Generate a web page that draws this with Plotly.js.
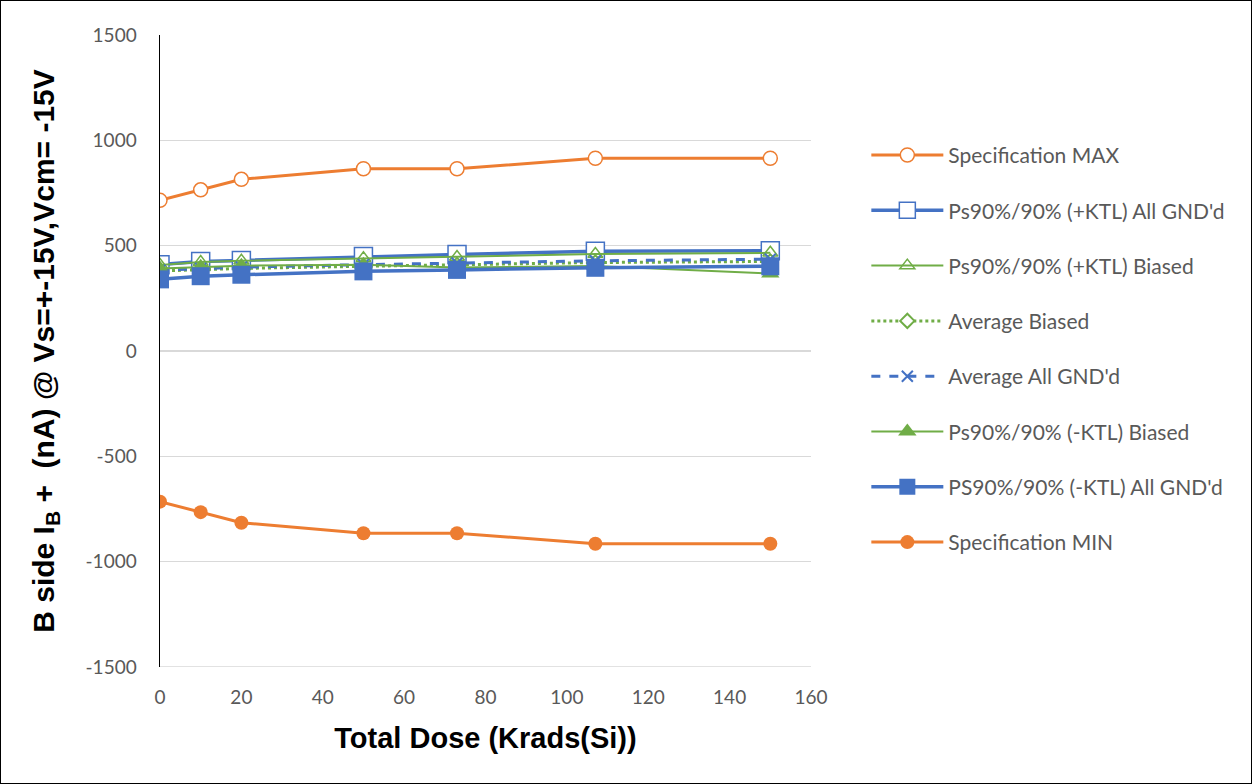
<!DOCTYPE html>
<html>
<head>
<meta charset="utf-8">
<script src="https://cdn.plot.ly/plotly-3.0.1.min.js"></script>
<style>
html,body{margin:0;padding:0;background:#fff;}
#chart{width:1250px;height:782px;border:1px solid #000;}
</style>
</head>
<body>
<div id="chart"></div>
<script>
const dose = [0, 10, 20, 50, 73, 107, 150];
const specMax = [715, 765, 815, 865, 865, 915, 915];
const plusKtlGnd = [410, 425, 430, 448, 458, 474, 476];
const plusKtlBiased = [408, 422, 428, 440, 446, 460, 466];
const avgBiased = [380, 387, 392, 402, 408, 420, 425];
const avgGnd = [383, 392, 398, 410, 418, 428, 436];
const minusKtlBiased = [392, 400, 405, 410, 396, 404, 368];
const minusKtlGnd = [340, 355, 362, 378, 385, 395, 402];
const specMin = [-715, -765, -815, -865, -865, -915, -915];
const yTickVals = [-1500, -1000, -500, 0, 500, 1000, 1500];
const yTickText = ['-1500', '-1000', '-500', '0', '500', '1000', '1500'];

const orange = '#ED7D31', blue = '#4472C4', green = '#70AD47';

function tr(name, y, color, lw, dash, sym, msize, fill, mline, group) {
  return {
    x: dose, y: y, name: name, type: 'scatter', mode: 'lines+markers',
    legendgroup: group,
    line: {color: color, width: lw, dash: dash},
    marker: {symbol: sym, size: msize, color: fill, line: {color: color, width: mline}}
  };
}

const data = [
  tr('Specification MAX', specMax, orange, 3, 'solid', 'circle', 14, '#fff', 1.5, 'g1'),
  tr("Ps90%/90% (+KTL) All GND'd", plusKtlGnd, blue, 3.5, 'solid', 'square', 18, '#fff', 1.5, 'g2'),
  tr('Ps90%/90% (+KTL) Biased', plusKtlBiased, green, 2, 'solid', 'triangle-up-open', 13, green, 1.5, 'g3'),
  tr('Average Biased', avgBiased, green, 3, 'dot', 'diamond', 11, '#fff', 2, 'g4'),
  tr("Average All GND'd", avgGnd, blue, 3, 'dash', 'x-thin', 11, blue, 2, 'g5'),
  tr('Ps90%/90% (-KTL) Biased', minusKtlBiased, green, 2, 'solid', 'triangle-up', 16, green, 0, 'g6'),
  tr("PS90%/90% (-KTL) All GND'd", minusKtlGnd, blue, 3.5, 'solid', 'square', 18, blue, 0, 'g7'),
  tr('Specification MIN', specMin, orange, 3, 'solid', 'circle', 14, orange, 0, 'g8')
];

const tickFont = {family: 'Lato, "Open Sans", sans-serif', size: 19, color: '#595959'};

const layout = {
  width: 1250, height: 782,
  margin: {l: 159, r: 440, t: 34, b: 116},
  paper_bgcolor: '#fff', plot_bgcolor: '#fff',
  showlegend: true,
  legend: {
    x: 1.085, y: 0.842, xanchor: 'left', yanchor: 'top',
    font: {family: 'Lato, "Open Sans", sans-serif', size: 21, color: '#595959'},
    traceorder: 'grouped', tracegroupgap: 25,
    bgcolor: 'rgba(0,0,0,0)', itemwidth: 72
  },
  xaxis: {
    range: [0, 160], dtick: 20, tick0: 0,
    showgrid: false, zeroline: false,
    showline: false, ticks: '',
    tickfont: tickFont, ticklabelstandoff: 17,
    title: {text: 'Total Dose (Krads(Si))', font: {family: '"Liberation Sans", Arial, sans-serif', size: 29, color: '#000', weight: 'bold'}, standoff: 20}
  },
  yaxis: {
    range: [-1500, 1500], tickmode: 'array', tickvals: yTickVals, ticktext: yTickText,
    showgrid: true, gridcolor: '#D9D9D9', gridwidth: 1.3,
    zeroline: false, showline: true, linecolor: '#000', linewidth: 1.5,
    ticks: '', tickfont: tickFont, ticklabelstandoff: 18,
    title: {text: 'B side I<sub>B</sub> +  (nA) @ Vs=+-15V,Vcm= -15V', font: {family: '"Liberation Sans", Arial, sans-serif', size: 30, color: '#000', weight: 'bold'}, standoff: 22}
  },
  shapes: [
    {type: 'line', xref: 'paper', yref: 'y', x0: 0, x1: 1, y0: -1500, y1: -1500, line: {color: '#D9D9D9', width: 1.3}, layer: 'below'}
  ]
};

Plotly.newPlot('chart', data, layout, {displayModeBar: false, staticPlot: true});
</script>
</body>
</html>
